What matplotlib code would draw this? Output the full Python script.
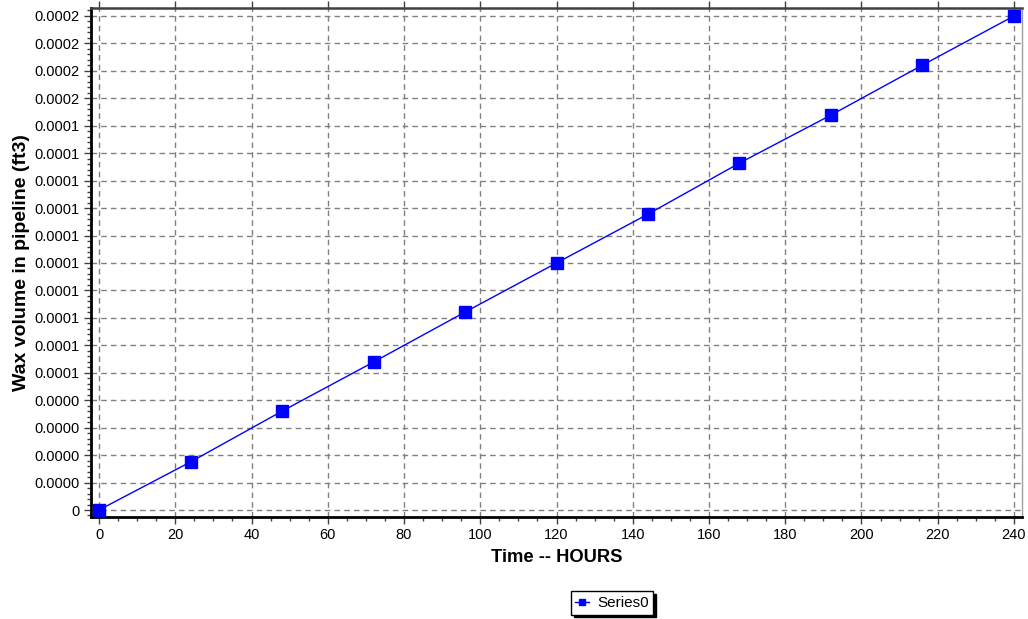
import math
import matplotlib
matplotlib.use("Agg")
import matplotlib.pyplot as plt
from matplotlib.ticker import MultipleLocator, FuncFormatter

plt.rcParams['font.family'] = ['Liberation Sans', 'DejaVu Sans']

# data
hours = [0, 24, 48, 72, 96, 120, 144, 168, 192, 216, 240]
wax_volume = [0, 1.75e-5, 3.6e-5, 5.39e-5, 7.21e-5, 9.0e-5,
              10.78e-5, 12.64e-5, 14.39e-5, 16.21e-5, 18.0e-5]
series_name = "Series0"
x_label = "Time -- HOURS"
y_label = "Wax volume in pipeline (ft3)"


def ylab(v, pos):
    n = int(round(v / 1e-5))
    if n == 0:
        return "0"
    return f"{math.floor(n / 10 + 0.5) / 10000:.4f}"


fig = plt.figure(figsize=(10.28, 6.19), dpi=100)
ax = fig.add_axes([91/1028, 1 - 517/619, (1022 - 91)/1028, (517 - 8)/619])

line, = ax.plot(hours, wax_volume, color='#0000ff', lw=1.0, marker='s',
                markersize=8.5, markerfacecolor='#0000ff', markeredgecolor='#0000ff',
                clip_on=False, zorder=3, label=series_name)

ax.set_xlim(-2.1, 242.1)
ax.set_ylim(-0.255e-5, 18.29e-5)
ax.xaxis.set_major_locator(MultipleLocator(20))
ax.xaxis.set_minor_locator(MultipleLocator(5))
ax.yaxis.set_major_locator(MultipleLocator(1e-5))
ax.yaxis.set_minor_locator(MultipleLocator(0.2e-5))
ax.yaxis.set_major_formatter(FuncFormatter(ylab))

ax.grid(True, which='major', color='#808080', linestyle=(0, (4, 3)), lw=1.0)
ax.tick_params(axis='both', which='major', labelsize=10.5, length=5, width=1,
               color='#404040', pad=3)
ax.tick_params(axis='both', which='minor', length=3, width=1, color='#404040')
ax.tick_params(axis='x', top=True, which='major')

for s in ('left', 'bottom'):
    ax.spines[s].set_color('black')
    ax.spines[s].set_linewidth(2.0)
ax.spines['top'].set_color('#404040')
ax.spines['top'].set_linewidth(1.8)
ax.spines['right'].set_color('#a0a0a0')
ax.spines['right'].set_linewidth(1.0)

ax.set_xlabel(x_label, fontsize=13.2, fontweight='bold', labelpad=5)
ax.set_ylabel(y_label, fontsize=14, fontweight='bold', labelpad=3)

leg = fig.legend(handles=[line], loc='center', bbox_to_anchor=(612/1028, 1 - 603/619),
                 fontsize=11, frameon=True, fancybox=False, shadow={'color': 'black', 'alpha': 1.0},
                 handlelength=0.9, handletextpad=0.5, borderpad=0.3, borderaxespad=0,
                 markerscale=0.5)
leg.get_frame().set_edgecolor('black')
leg.get_frame().set_linewidth(1.0)

fig.savefig("out.png", dpi=100)
